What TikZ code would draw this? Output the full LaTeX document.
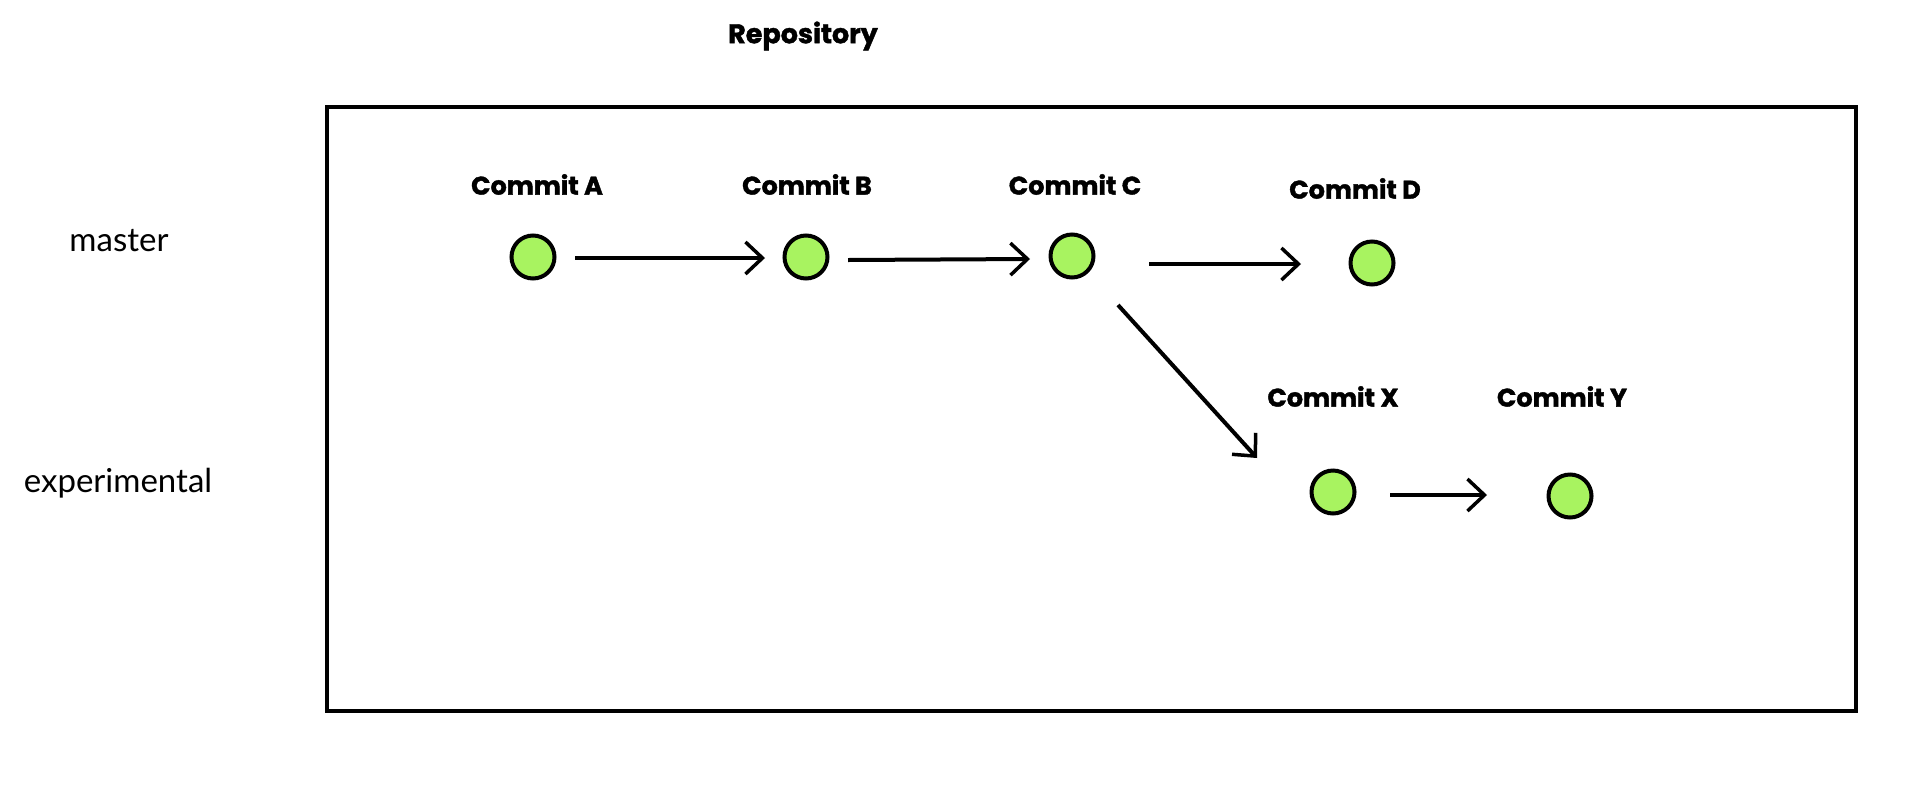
\documentclass[tikz,border=0pt]{standalone}
\usepackage{fontspec}
\setmainfont{Lato}
\newfontfamily\heavy{Poppins}[BoldFeatures={FakeBold=1.5}]
\usetikzlibrary{arrows.meta}
\definecolor{commitgreen}{RGB}{168,243,96}
\tikzset{
  commit/.style={circle, draw=black, line width=4pt, fill=commitgreen, minimum size=43pt, inner sep=0pt},
  clabel/.style={font=\heavy\bfseries\fontsize{25.5}{30}\selectfont, inner sep=0pt},
  branch/.style={font=\fontsize{33}{38}\selectfont, inner sep=0pt},
  arr/.style={line width=4pt, -{Straight Barb[length=17pt, width=32pt, line width=3.5pt]}},
  repo/.style={draw=black, line width=4pt}
}
\begin{document}
\begin{tikzpicture}[x=1pt, y=-1pt]
  \useasboundingbox (0,0) rectangle (1930,796);
  \fill[white] (0,0) rectangle (1930,796);
  % repository frame
  \node[font=\heavy\bfseries\fontsize{27}{32}\selectfont, inner sep=0pt] (title) at (803,36) {Repository};
  \draw[repo] (327,107) rectangle (1856,711);
  % branch names
  \node[branch] (master) at (119,241) {master};
  \node[branch] (experimental) at (118,483) {experimental};
  % commits
  \node[commit] (a) at (533,257) {};
  \node[commit] (b) at (806,257) {};
  \node[commit] (c) at (1072,256) {};
  \node[commit] (d) at (1372,263) {};
  \node[commit] (x) at (1333,492) {};
  \node[commit] (y) at (1570,496) {};
  % labels
  \node[clabel] (la) at (537,184.5) {Commit A};
  \node[clabel] (lb) at (807,184.5) {Commit B};
  \node[clabel] (lc) at (1075,184.5) {Commit C};
  \node[clabel] (ld) at (1355,188.5) {Commit D};
  \node[clabel] (lx) at (1333,396.5) {Commit X};
  \node[clabel] (ly) at (1562,396.5) {Commit Y};
  % connectors
  \draw[arr] ([shift={(42,1)}]a.center) -- ([shift={(-41,1)}]b.center);
  \draw[arr] ([shift={(42,3)}]b.center) -- ([shift={(-42,3)}]c.center);
  \draw[arr] ([shift={(77,8)}]c.center) -- ([shift={(-71,1)}]d.center);
  \draw[arr] ([shift={(46,49)}]c.center) -- ([shift={(-76,-34)}]x.center);
  \draw[arr] ([shift={(57,3)}]x.center) -- ([shift={(-83,-1)}]y.center);
\end{tikzpicture}
\end{document}
